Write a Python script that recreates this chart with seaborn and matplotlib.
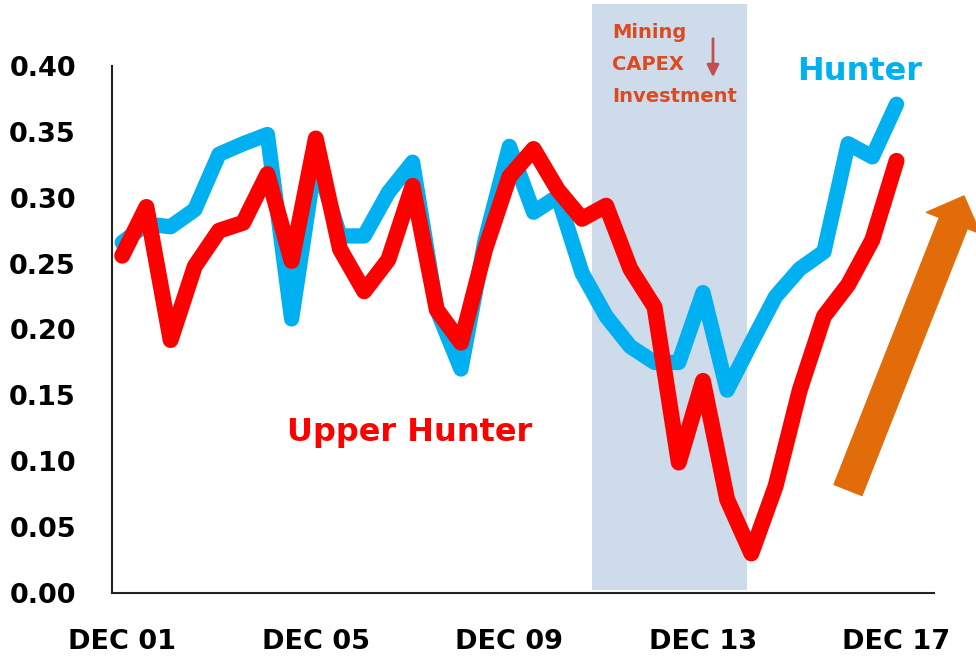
import matplotlib
matplotlib.use("Agg")
from matplotlib import pyplot as plt
from matplotlib.patches import Rectangle, FancyArrow
from matplotlib.transforms import IdentityTransform
import pandas as pd
import seaborn as sns

# half-yearly observations, Dec 01 .. Dec 17
periods = list(range(33))
hunter = [0.266, 0.280, 0.278, 0.291, 0.333, 0.341, 0.348, 0.208, 0.330,
          0.271, 0.271, 0.304, 0.327, 0.215, 0.170, 0.268, 0.339, 0.289,
          0.301, 0.243, 0.210, 0.187, 0.175, 0.175, 0.228, 0.154, 0.190,
          0.225, 0.246, 0.259, 0.341, 0.331, 0.371]
upper_hunter = [0.256, 0.293, 0.192, 0.248, 0.275, 0.281, 0.318, 0.252, 0.345,
                0.261, 0.229, 0.253, 0.309, 0.215, 0.190, 0.261, 0.316, 0.337,
                0.306, 0.284, 0.294, 0.246, 0.217, 0.099, 0.161, 0.071, 0.030,
                0.081, 0.154, 0.210, 0.234, 0.268, 0.328]
tick_pos = [0, 8, 16, 24, 32]
tick_labels = ["DEC 01", "DEC 05", "DEC 09", "DEC 13", "DEC 17"]
y_ticks = [0.00, 0.05, 0.10, 0.15, 0.20, 0.25, 0.30, 0.35, 0.40]
capex_span = (19.42, 25.82)

df = pd.DataFrame({"period": periods, "Hunter": hunter, "Upper Hunter": upper_hunter})

sns.set_style("white")
plt.rcParams['font.family'] = ['DejaVu Sans']

fig = plt.figure(figsize=(9.76, 6.58), dpi=100)
ax = fig.add_axes([0.1148, 0.0988, 0.957 - 0.1148, 0.8997 - 0.0988])

# shaded period of falling mining capex (extends above the plot area)
ax.add_patch(Rectangle((capex_span[0], 0.002), capex_span[1] - capex_span[0], 0.445,
                       facecolor="#CEDBEB", edgecolor="none", clip_on=False, zorder=0))

sns.lineplot(data=df, x="period", y="Hunter", ax=ax, color="#00B0F0", linewidth=11,
             solid_capstyle="round", solid_joinstyle="round", zorder=2)
sns.lineplot(data=df, x="period", y="Upper Hunter", ax=ax, color="#FF0000", linewidth=11.5,
             solid_capstyle="round", solid_joinstyle="round", zorder=3)

ax.set_xlim(-0.42, 33.55)
ax.set_ylim(0, 0.40)
ax.set_xticks(tick_pos)
ax.set_xticklabels(tick_labels)
ax.set_yticks(y_ticks)
ax.set_yticklabels([f"{v:.2f}" for v in y_ticks])
ax.tick_params(axis="both", length=0, labelsize=19.5, labelcolor="black")
ax.tick_params(axis="y", pad=26)
ax.tick_params(axis="x", pad=26)
for lab in ax.get_xticklabels() + ax.get_yticklabels():
    lab.set_fontweight("bold")
ax.set_xlabel("")
ax.set_ylabel("")
sns.despine(ax=ax)
for side in ["left", "bottom"]:
    ax.spines[side].set_color("#222222")
    ax.spines[side].set_linewidth(1.5)

# labels
ax.text(6.8, 0.122, "Upper Hunter", color="#FF0000", fontsize=23, fontweight="bold",
        va="center", ha="left")
fig.text(860 / 976, 1 - 72 / 658, "Hunter", color="#00B0F0", fontsize=23,
         fontweight="bold", ha="center", va="center")
for i, line in enumerate(["Mining", "CAPEX", "Investment"]):
    fig.text(612 / 976, 1 - (33 + 31.5 * i) / 658, line, color="#DD4A1E", fontsize=14,
             fontweight="bold", ha="left", va="center")
ax.annotate("", xy=(713, 658 - 80), xytext=(713, 658 - 36), xycoords="figure pixels",
            textcoords="figure pixels",
            arrowprops=dict(arrowstyle="-|>", color="#C0504D", lw=2, mutation_scale=18))

# big orange "recovery" arrow
arrow = FancyArrow(848, 658 - 490, 116, 294, width=30, head_width=58, head_length=29,
                   length_includes_head=True, color="#E36C0A", transform=IdentityTransform())
fig.add_artist(arrow)

fig.savefig("out.png", dpi=100)
